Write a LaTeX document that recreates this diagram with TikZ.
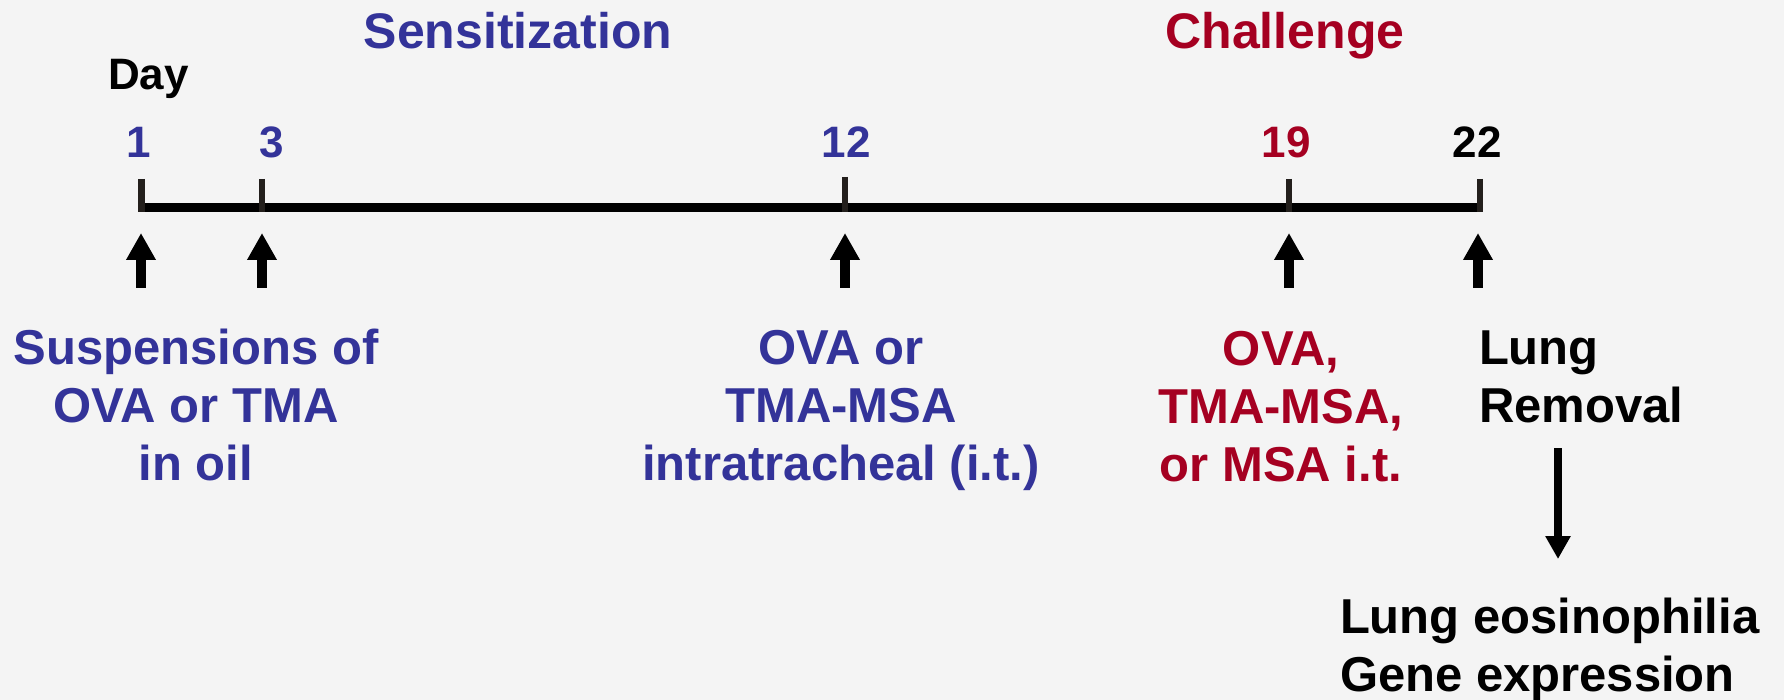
\documentclass[tikz,border=0pt]{standalone}
\usepackage{fontspec}
\setmainfont{Liberation Sans}
\usetikzlibrary{arrows.meta}
\definecolor{bg}{HTML}{F4F4F4}
\definecolor{sensblue}{HTML}{333399}
\definecolor{chalred}{HTML}{A50021}
\definecolor{tickc}{HTML}{231F1C}
\newcommand\cstack[1]{\vtop{\halign{\hfil##\hfil\cr#1\crcr}}}
\newcommand\lstack[1]{\vtop{\halign{##\hfil\cr#1\crcr}}}
\begin{document}
\begin{tikzpicture}[x=1pt,y=-1pt,
  lbl/.style={inner sep=0pt,outer sep=0pt,font=\fontsize{49}{58}\selectfont\bfseries,anchor=base},
  lbll/.style={lbl,anchor=base west},
  title/.style={inner sep=0pt,font=\fontsize{50}{60}\selectfont\bfseries,anchor=base},
  num/.style={inner sep=0pt,font=\fontsize{44}{52}\selectfont\bfseries,anchor=base},
  tickmark/.style={draw=tickc,line width=6.5pt},
  axis/.style={draw=black,line width=9pt},
  uparrow/.style={draw=black,line width=9.5pt,-{Triangle[width=28pt,length=27pt]}},
  downarrow/.style={draw=black,line width=8pt,-{Triangle[width=24pt,length=23pt]}}]
\fill[bg] (0,0) rectangle (1784,700);
\useasboundingbox (0,0) rectangle (1784,700);
% titles
\node[title,text=sensblue] (sens) at (518,49) {Sensitization};
\node[title,text=chalred] (chal) at (1285,49) {Challenge};
\node[num,anchor=base west] (day) at (108,90) {Day};
% day numbers
\node[num,text=sensblue] (n1) at (139,158) {1};
\node[num,text=sensblue] (n3) at (272,158) {3};
\node[num,text=sensblue] (n12) at (846,158) {12};
\node[num,text=chalred] (n19) at (1286,158) {19};
\node[num] (n22) at (1477,158) {22};
% axis
\coordinate (a0) at (138,207.5);
\coordinate (a1) at (1483,207.5);
\draw[axis] (a0) -- (a1);
\coordinate (t1a) at (141.5,179); \coordinate (t1b) at (141.5,212);
\coordinate (t3a) at (262,179); \coordinate (t3b) at (262,212);
\coordinate (t12a) at (845,177); \coordinate (t12b) at (845,212);
\coordinate (t19a) at (1289,179); \coordinate (t19b) at (1289,212);
\coordinate (t22a) at (1480,179); \coordinate (t22b) at (1480,212);
\draw[tickmark] (t1a) -- (t1b);
\draw[tickmark] (t3a) -- (t3b);
\draw[tickmark] (t12a) -- (t12b);
\draw[tickmark] (t19a) -- (t19b);
\draw[tickmark] (t22a) -- (t22b);
% up arrows
\coordinate (u1b) at (141,288); \coordinate (u1t) at (141,233);
\coordinate (u3b) at (262,288); \coordinate (u3t) at (262,233);
\coordinate (u12b) at (845,288); \coordinate (u12t) at (845,233);
\coordinate (u19b) at (1289,288); \coordinate (u19t) at (1289,233);
\coordinate (u22b) at (1478,288); \coordinate (u22t) at (1478,233);
\draw[uparrow] (u1b) -- (u1t);
\draw[uparrow] (u3b) -- (u3t);
\draw[uparrow] (u12b) -- (u12t);
\draw[uparrow] (u19b) -- (u19t);
\draw[uparrow] (u22b) -- (u22t);
% labels
\node[lbl,text=sensblue] (l1) at (196,364) {\cstack{Suspensions of\cr OVA or TMA\cr in oil}};
\node[lbl,text=sensblue] (l12) at (841,364) {\cstack{OVA or\cr TMA-MSA\cr intratracheal (i.t.)}};
\node[lbl,text=chalred] (l19) at (1281,365) {\cstack{OVA,\cr TMA-MSA,\cr or MSA i.t.}};
\node[lbll] (l22) at (1479,364) {\lstack{Lung\cr Removal}};
\node[lbll] (res) at (1340,633) {\lstack{Lung eosinophilia\cr Gene expression}};
% down arrow
\coordinate (d1) at (1558,448);
\coordinate (d2) at (1558,559);
\draw[downarrow] (d1) -- (d2);
\end{tikzpicture}
\end{document}
